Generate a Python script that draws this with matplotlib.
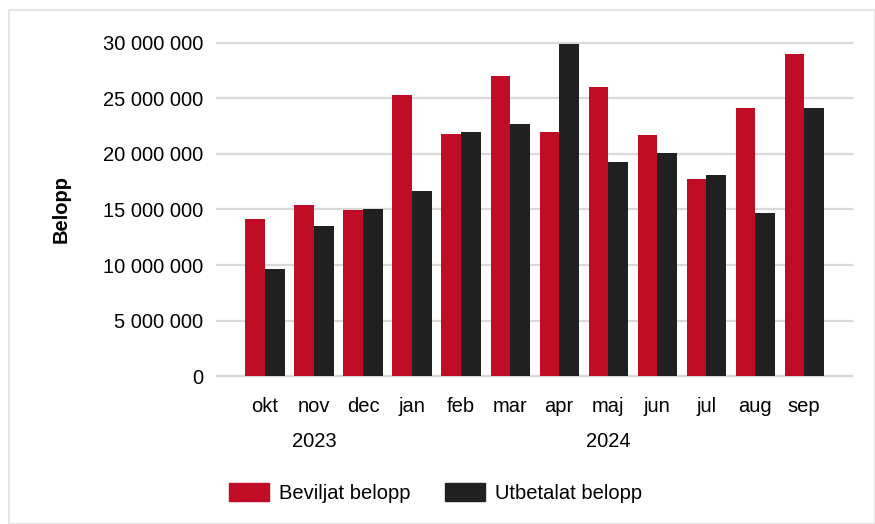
import numpy as np
import matplotlib.pyplot as plt
from matplotlib.ticker import FuncFormatter
from matplotlib.patches import Rectangle, Patch

plt.rcParams['font.family'] = ['Liberation Sans', 'DejaVu Sans']

months = ['okt', 'nov', 'dec', 'jan', 'feb', 'mar', 'apr', 'maj', 'jun', 'jul', 'aug', 'sep']
beviljat = [14.14e6, 15.40e6, 14.95e6, 25.30e6, 21.84e6, 27.05e6,
            21.97e6, 26.03e6, 21.70e6, 17.72e6, 24.13e6, 29.00e6]
utbetalat = [9.63e6, 13.54e6, 15.04e6, 16.70e6, 22.00e6, 22.69e6,
             29.90e6, 19.29e6, 20.10e6, 18.09e6, 14.68e6, 24.13e6]
years = ['2023', '2024']
year_pos = [1, 7]

red = '#c00c24'
dark = '#202020'
grid = '#d9d9d9'
fs = 14.5

fig = plt.figure(figsize=(8.75, 5.24), dpi=100)
ax = fig.add_axes([0.248, 0.2824, 0.726, 0.6356])

x = np.arange(len(months))
w = 0.4
ax.bar(x - w/2, beviljat, w, color=red, label='Beviljat belopp', zorder=3)
ax.bar(x + w/2, utbetalat, w, color=dark, label='Utbetalat belopp', zorder=3)

ax.set_xlim(-0.98, 11.98)
ax.set_ylim(0, 30e6)
ax.set_yticks(np.arange(0, 30e6 + 1, 5e6))
ax.yaxis.set_major_formatter(FuncFormatter(lambda v, p: f'{int(v):,}'.replace(',', ' ')))
ax.set_xticks(x)
ax.set_xticklabels(months)
ax.tick_params(axis='both', length=0, labelsize=fs, colors='black')
ax.tick_params(axis='y', pad=10)
ax.tick_params(axis='x', pad=15)
ax.grid(axis='y', color=grid, linewidth=1.6, zorder=0, clip_on=False)
for s in ['top', 'right', 'left']:
    ax.spines[s].set_visible(False)
ax.spines['bottom'].set_color(grid)
ax.spines['bottom'].set_linewidth(1.6)

ax.set_ylabel('Belopp', fontsize=fs, fontweight='bold')
ax.yaxis.set_label_coords(-0.23, 0.5)

for yr, p in zip(years, year_pos):
    ax.text(p, -0.196, yr, transform=ax.get_xaxis_transform(), ha='center', va='center', fontsize=fs)

handles = [Patch(color=red), Patch(color=dark)]
fig.legend(handles, ['Beviljat belopp', 'Utbetalat belopp'], loc='center', bbox_to_anchor=(0.498, 0.06),
           ncol=2, frameon=False, fontsize=fs, handlelength=2.0, handleheight=1.0,
           handletextpad=0.5, columnspacing=1.7)

fig.patches.append(Rectangle((9/875, 0), 1 - 9/875, 1 - 10/524, transform=fig.transFigure,
                             fill=False, edgecolor='#e0e0e0', linewidth=1.2))

fig.savefig('out.png', dpi=100)
